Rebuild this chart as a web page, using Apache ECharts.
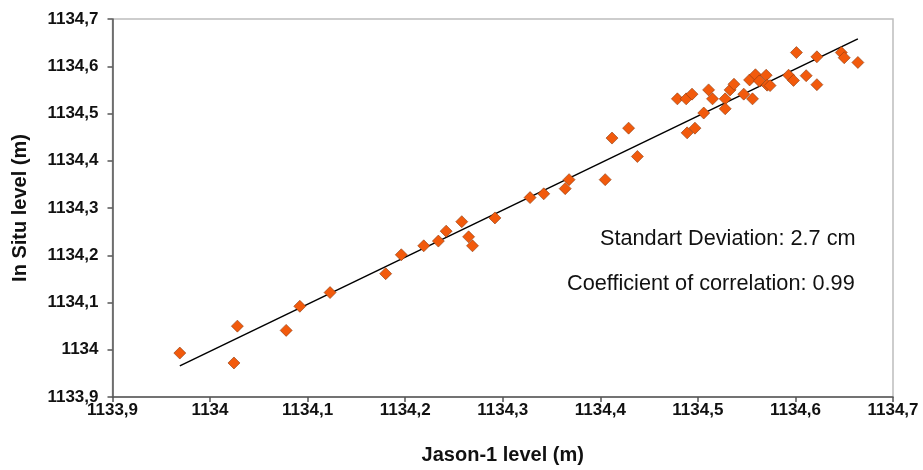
<!DOCTYPE html>
<html>
<head>
<meta charset="utf-8">
<script src="https://cdn.jsdelivr.net/npm/echarts@6/dist/echarts.min.js"></script>
<style>html,body{margin:0;padding:0;background:#fff}#c{width:923px;height:470px}</style>
</head>
<body>
<div id="c"></div>
<script>
const jasonLevel = [1133.969,1134.0245,1134.028,1134.078,1134.092,1134.123,1134.180,1134.196,1134.219,1134.234,1134.242,1134.258,1134.265,1134.269,1134.292,1134.328,1134.342,1134.364,1134.368,1134.405,1134.412,1134.429,1134.438,1134.479,1134.488,1134.494,1134.489,1134.497,1134.506,1134.511,1134.515,1134.528,1134.528,1134.533,1134.537,1134.547,1134.556,1134.553,1134.559,1134.563,1134.570,1134.571,1134.574,1134.593,1134.598,1134.601,1134.611,1134.622,1134.622,1134.647,1134.650,1134.664];
const inSituLevel = [1133.993,1133.972,1134.050,1134.041,1134.092,1134.121,1134.161,1134.201,1134.220,1134.230,1134.251,1134.271,1134.239,1134.220,1134.279,1134.322,1134.330,1134.341,1134.360,1134.360,1134.448,1134.469,1134.409,1134.531,1134.531,1134.541,1134.459,1134.469,1134.501,1134.550,1134.531,1134.531,1134.510,1134.550,1134.562,1134.541,1134.531,1134.571,1134.582,1134.569,1134.581,1134.560,1134.559,1134.581,1134.570,1134.629,1134.580,1134.620,1134.561,1134.629,1134.618,1134.608];
const trendX = [1133.969, 1134.664];
const trendY = [1133.966, 1134.658];
const statsText = ["Standart Deviation: 2.7 cm", "Coefficient of correlation: 0.99"];

const fmt = v => String(+(+v).toFixed(1)).replace('.', ',');
const pts = jasonLevel.map((x, i) => [x, inSituLevel[i]]);
const line = trendX.map((x, i) => [x, trendY[i]]);
const font = '"Liberation Sans", Arial, sans-serif';

const chart = echarts.init(document.getElementById('c'), null, {renderer: 'canvas'});
chart.setOption({
  animation: false,
  backgroundColor: '#fff',
  grid: {left: 112.5, right: 30, top: 19, bottom: 72, show: true, borderColor: '#bdbdbd', borderWidth: 1.5, backgroundColor: 'transparent'},
  xAxis: {
    type: 'value', min: 1133.9, max: 1134.7, interval: 0.1,
    name: 'Jason-1 level (m)', nameLocation: 'middle', nameGap: 48,
    nameTextStyle: {fontFamily: font, fontSize: 20, fontWeight: 'bold', color: '#111'},
    axisLine: {show: true, onZero: false, lineStyle: {color: '#555', width: 1.5}},
    axisTick: {show: true, length: 5, lineStyle: {color: '#555', width: 1.5}},
    axisLabel: {formatter: fmt, fontFamily: font, fontSize: 17, fontWeight: 'bold', color: '#111', margin: 5},
    splitLine: {show: false}
  },
  yAxis: {
    type: 'value', min: 1133.9, max: 1134.7, interval: 0.1,
    name: 'In Situ level (m)', nameLocation: 'middle', nameGap: 82, nameRotate: 90,
    nameTextStyle: {fontFamily: font, fontSize: 20, fontWeight: 'bold', color: '#111'},
    axisLine: {show: true, onZero: false, lineStyle: {color: '#555', width: 1.5}},
    axisTick: {show: true, length: 5, lineStyle: {color: '#555', width: 1.5}},
    axisLabel: {formatter: fmt, fontFamily: font, fontSize: 17, fontWeight: 'bold', color: '#111', margin: 14},
    splitLine: {show: false}
  },
  series: [
    {type: 'line', data: line, symbol: 'none', lineStyle: {color: '#000', width: 1.5}, z: 2},
    {type: 'scatter', data: pts, symbol: 'diamond', symbolSize: 12,
     itemStyle: {color: '#f25a0c', borderColor: '#8a3a10', borderWidth: 0.6, opacity: 1}, z: 3}
  ],
  graphic: [
    {type: 'text', left: 600, top: 228, style: {text: statsText[0], font: '21.7px ' + font, fill: '#111'}},
    {type: 'text', left: 567, top: 273, style: {text: statsText[1], font: '21.7px ' + font, fill: '#111'}}
  ]
});
</script>
</body>
</html>
